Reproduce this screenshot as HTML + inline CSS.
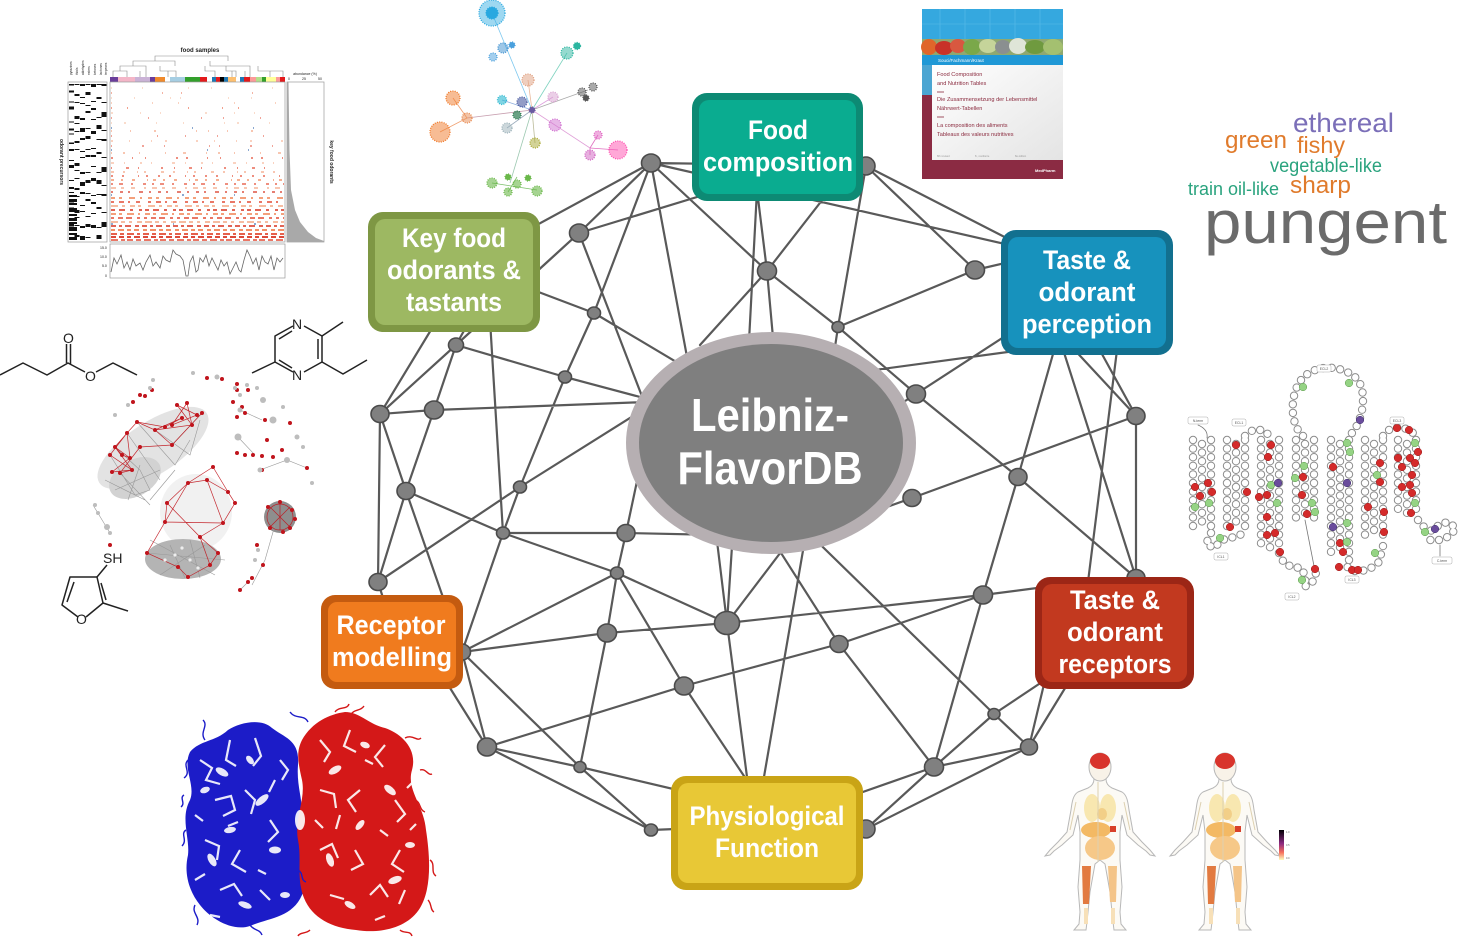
<!DOCTYPE html>
<html><head><meta charset="utf-8"><style>
html,body{margin:0;padding:0;background:#fff;}
body{width:1472px;height:939px;overflow:hidden;}
svg{display:block;}
.lbl{font-family:"Liberation Sans",sans-serif;font-weight:bold;fill:#fff;}
.wc{font-family:"Liberation Sans",sans-serif;}
.tiny{font-family:"Liberation Sans",sans-serif;}
</style></head><body>
<svg width="1472" height="939" viewBox="0 0 1472 939" xmlns="http://www.w3.org/2000/svg">
<defs>
<linearGradient id="cbar" x1="0" y1="0" x2="0" y2="1"><stop offset="0" stop-color="#000004"/><stop offset=".45" stop-color="#8c2981"/><stop offset=".75" stop-color="#f7705c"/><stop offset="1" stop-color="#fcfdbf"/></linearGradient>
<linearGradient id="bookw" x1="0" y1="0" x2="1" y2="1"><stop offset="0" stop-color="#ffffff"/><stop offset="1" stop-color="#e4e4e4"/></linearGradient>
</defs>

<!-- ================= HEATMAP (top-left) ================= -->
<g>
<text x="200" y="52" class="tiny" font-size="6" font-weight="bold" text-anchor="middle" fill="#222">food samples</text>
<path d="M113 77V71H127V77M120 71V66H146V71M140 71V77M146 71V77M133 66V61H175V66M160 66V71H176V77M168 71V77M155 61V56H228V61M210 61V66H250V71M232 71V77M245 71V77M250 71V77M226 66V71H236V77M205 66V71H215V77M258 66V71H283V77M270 71V77" fill="none" stroke="#8a8a8a" stroke-width=".6"/>
<g>
<rect x="110" y="77" width="8" height="5" fill="#6a3d9a"/><rect x="118" y="77" width="17" height="5" fill="#f4b6c8"/><rect x="135" y="77" width="15" height="5" fill="#cab2d6"/><rect x="150" y="77" width="5" height="5" fill="#6a3d9a"/><rect x="155" y="77" width="10" height="5" fill="#f08a2c"/><rect x="170" y="77" width="15" height="5" fill="#a6cee3"/><rect x="185" y="77" width="15" height="5" fill="#33a02c"/><rect x="200" y="77" width="7" height="5" fill="#e31a1c"/><rect x="212" y="77" width="4" height="5" fill="#1f78b4"/><rect x="216" y="77" width="4" height="5" fill="#e31a1c"/><rect x="220" y="77" width="4" height="5" fill="#000"/><rect x="224" y="77" width="4" height="5" fill="#1f78b4"/><rect x="228" y="77" width="8" height="5" fill="#fdbf6f"/><rect x="240" y="77" width="4" height="5" fill="#1f78b4"/><rect x="244" y="77" width="6" height="5" fill="#e31a1c"/><rect x="250" y="77" width="6" height="5" fill="#fb9a99"/><rect x="256" y="77" width="6" height="5" fill="#b2df8a"/><rect x="262" y="77" width="4" height="5" fill="#33a02c"/><rect x="266" y="77" width="10" height="5" fill="#ffff99"/><rect x="276" y="77" width="4" height="5" fill="#fb9a99"/><rect x="280" y="77" width="5" height="5" fill="#e31a1c"/>
</g>
<rect x="110" y="82" width="175" height="160" fill="#fff" stroke="#9a9a9a" stroke-width=".7"/>
<g fill="none">
<line x1="111" x2="284" y1="88" y2="88" stroke="#f6b89a" stroke-width="1" stroke-dasharray="1 30 1 45 1 22 1 60"/>
<line x1="111" x2="284" y1="93" y2="93" stroke="#e9694a" stroke-width="1" stroke-dasharray="1 50 1 18 1 70"/>
<line x1="111" x2="284" y1="98" y2="98" stroke="#f6b89a" stroke-width="1" stroke-dasharray="1 22 1 35 1 9 1 47"/>
<line x1="111" x2="284" y1="103" y2="103" stroke="#f4a582" stroke-width="1" stroke-dasharray="1 40 1 25 1 55"/>
<line x1="111" x2="284" y1="108" y2="108" stroke="#e9694a" stroke-width="1.2" stroke-dasharray="1 15 1 60 1 33"/>
<line x1="111" x2="284" y1="113" y2="113" stroke="#f6b89a" stroke-width="1" stroke-dasharray="2 27 1 19 1 44"/>
<line x1="111" x2="284" y1="118" y2="118" stroke="#e34a33" stroke-width="1" stroke-dasharray="1 36 1 52 1 21"/>
<line x1="111" x2="284" y1="123" y2="123" stroke="#f6b89a" stroke-width="1" stroke-dasharray="1 12 2 30 1 26 1 40"/>
<line x1="111" x2="284" y1="128" y2="128" stroke="#4575b4" stroke-width="1.2" stroke-dasharray="1 80 1 60 1 120"/>
<line x1="111" x2="284" y1="131" y2="131" stroke="#f4a582" stroke-width="1.2" stroke-dasharray="1 18 1 23 2 40 1 11"/>
<line x1="111" x2="284" y1="136" y2="136" stroke="#e34a33" stroke-width="1" stroke-dasharray="1 45 1 27 1 31"/>
<line x1="111" x2="284" y1="141" y2="141" stroke="#f6b89a" stroke-width="1.2" stroke-dasharray="2 16 1 21 1 13 2 29"/>
<line x1="111" x2="284" y1="146" y2="146" stroke="#e34a33" stroke-width="1" stroke-dasharray="1 30 2 20 1 44 1 9"/>
<line x1="111" x2="284" y1="150" y2="150" stroke="#4575b4" stroke-width="1.2" stroke-dasharray="1 95 1 40"/>
<line x1="111" x2="284" y1="153" y2="153" stroke="#f4a582" stroke-width="1.2" stroke-dasharray="1 11 2 14 1 25 1 17 3 20"/>
<line x1="111" x2="284" y1="158" y2="158" stroke="#e34a33" stroke-width="1.2" stroke-dasharray="2 19 1 12 1 30 2 8"/>
<line x1="111" x2="284" y1="163" y2="163" stroke="#f6b89a" stroke-width="1.2" stroke-dasharray="3 10 1 15 2 9 1 20"/>
<line x1="111" x2="284" y1="168" y2="168" stroke="#e34a33" stroke-width="1.2" stroke-dasharray="1 14 3 9 1 22 2 11"/>
<line x1="111" x2="284" y1="172" y2="172" stroke="#f4a582" stroke-width="1.2" stroke-dasharray="3 9 2 12 1 6 2 15"/>
<line x1="111" x2="284" y1="176" y2="176" stroke="#e34a33" stroke-width="1.2" stroke-dasharray="2 9 2 14 1 7 2 10"/>
<line x1="111" x2="284" y1="180" y2="180" stroke="#f08050" stroke-width="1.3" stroke-dasharray="3 7 2 9 3 12 1 5"/>
<line x1="111" x2="284" y1="184" y2="184" stroke="#e34a33" stroke-width="1.3" stroke-dasharray="2 6 4 8 2 10 3 6"/>
<line x1="111" x2="284" y1="188" y2="188" stroke="#f4a582" stroke-width="1.3" stroke-dasharray="5 5 3 7 4 9 2 6"/>
<line x1="111" x2="284" y1="192" y2="192" stroke="#d7301f" stroke-width="1.3" stroke-dasharray="2 7 3 5 2 9 4 6"/>
<line x1="111" x2="284" y1="195" y2="195" stroke="#4575b4" stroke-width="1.2" stroke-dasharray="1 70 2 50"/>
<line x1="111" x2="284" y1="198" y2="198" stroke="#f08050" stroke-width="1.4" stroke-dasharray="4 4 3 7 6 5 2 6"/>
<line x1="111" x2="284" y1="202" y2="202" stroke="#e34a33" stroke-width="1.4" stroke-dasharray="3 5 5 4 2 6 4 8"/>
<line x1="111" x2="284" y1="206" y2="206" stroke="#f4a582" stroke-width="1.4" stroke-dasharray="7 4 3 5 5 3 3 7"/>
<line x1="111" x2="284" y1="210" y2="210" stroke="#d7301f" stroke-width="1.5" stroke-dasharray="4 4 6 5 3 6 3 3"/>
<line x1="111" x2="284" y1="214" y2="214" stroke="#f08050" stroke-width="1.5" stroke-dasharray="5 3 3 5 7 4 2 5"/>
<line x1="111" x2="284" y1="218" y2="218" stroke="#e34a33" stroke-width="1.5" stroke-dasharray="3 4 5 3 6 5 3 4"/>
<line x1="111" x2="284" y1="222" y2="222" stroke="#f4a582" stroke-width="1.5" stroke-dasharray="7 3 4 4 3 5 5 3"/>
<line x1="111" x2="284" y1="224" y2="224" stroke="#4575b4" stroke-width="1.2" stroke-dasharray="2 60 1 80"/>
<line x1="111" x2="284" y1="226" y2="226" stroke="#d7301f" stroke-width="1.6" stroke-dasharray="5 3 3 3 6 4 4 3"/>
<line x1="111" x2="284" y1="230" y2="230" stroke="#f08050" stroke-width="1.7" stroke-dasharray="4 3 6 3 4 3 5 4"/>
<line x1="111" x2="284" y1="234" y2="234" stroke="#e34a33" stroke-width="1.7" stroke-dasharray="6 3 4 3 7 3 3 3"/>
<line x1="111" x2="284" y1="237" y2="237" stroke="#d7301f" stroke-width="1.7" stroke-dasharray="5 3 5 3 4 3 6 3"/>
<line x1="111" x2="284" y1="240" y2="240" stroke="#e34a33" stroke-width="1.6" stroke-dasharray="7 3 4 2 6 3 5 3"/>
</g>
<rect x="68" y="82" width="39" height="160" fill="#fff" stroke="#9a9a9a" stroke-width=".7"/>
<g stroke="#111" fill="none" stroke-width="5">
<line x1="71.5" x2="71.5" y1="84" y2="240" stroke-dasharray="1.5 5 2 9 1 4 3 12 1 6 2 3 1 8"/>
<line x1="77" x2="77" y1="84" y2="240" stroke-dasharray="1 9 2 6 1 13 3 4 1 7"/>
<line x1="82.5" x2="82.5" y1="84" y2="240" stroke-dasharray="2 11 1 5 1 14 2 8 4 6"/>
<line x1="88" x2="88" y1="84" y2="240" stroke-dasharray="1 7 3 10 1 5 2 15"/>
<line x1="93.5" x2="93.5" y1="84" y2="240" stroke-dasharray="3 14 1 6 2 9 1 11"/>
<line x1="99" x2="99" y1="84" y2="240" stroke-dasharray="1 12 2 18 1 7 4 10"/>
<line x1="104" x2="104" y1="84" y2="240" stroke-dasharray="2 16 1 9 5 13 1 8"/>
<line x1="73" x2="73" y1="195" y2="240" stroke-width="8" stroke-dasharray="2 2 3 1 2 3 4 2"/>
</g>
<g class="tiny" font-size="3.2" fill="#222">
<text transform="translate(72,75) rotate(-90)">pyrazines</text>
<text transform="translate(78,75) rotate(-90)">thiols</text>
<text transform="translate(84,75) rotate(-90)">aldehydes</text>
<text transform="translate(90,75) rotate(-90)">esters</text>
<text transform="translate(96,75) rotate(-90)">ketones</text>
<text transform="translate(102,75) rotate(-90)">lactones</text>
<text transform="translate(107,75) rotate(-90)">terpenes</text>
</g>
<text transform="translate(60,162) rotate(90)" class="tiny" font-size="5" font-weight="bold" text-anchor="middle" fill="#222">odorant precursors</text>
<text x="305" y="75" class="tiny" font-size="3.5" text-anchor="middle" fill="#222">abundance (%)</text>
<text x="288" y="80" class="tiny" font-size="3.5" fill="#222">0</text><text x="302" y="80" class="tiny" font-size="3.5" fill="#222">25</text><text x="318" y="80" class="tiny" font-size="3.5" fill="#222">50</text>
<rect x="287" y="82" width="37" height="160" fill="#fff" stroke="#9a9a9a" stroke-width=".7"/>
<path d="M287 82H288.5L289.5 150L291 190L295 210L300 222L308 232L316 238L324 241V242H287Z" fill="#a9a9a9"/>
<text transform="translate(330,162) rotate(90)" class="tiny" font-size="5" font-weight="bold" text-anchor="middle" fill="#222">key food odorants</text>
<rect x="110" y="244" width="175" height="34" fill="#fff" stroke="#9a9a9a" stroke-width=".7"/>
<polyline points="111,272 114,258 117,264 121,255 124,268 127,262 130,270 133,259 136,266 140,263 143,270 146,262 150,255 153,266 156,262 160,268 163,256 166,260 170,262 173,250 176,254 180,256 183,260 186,276 188,276 190,262 193,256 196,272 198,270 200,258 203,262 206,255 209,266 212,258 215,264 218,270 221,260 224,266 227,262 230,274 233,268 236,262 239,270 241,272 244,260 247,250 250,256 253,264 256,258 259,270 262,256 265,262 268,264 271,256 274,270 277,258 280,262 283,258" fill="none" stroke="#666" stroke-width=".8"/>
<g class="tiny" font-size="3.5" fill="#222"><text x="100" y="249">15.0</text><text x="100" y="258">10.0</text><text x="102" y="267">5.0</text><text x="105" y="277">0</text></g>
</g>

<!-- ================= small network (top) ================= -->
<g stroke-width=".8" fill="none">
<line x1="532" y1="110" x2="492" y2="13" stroke="#7ec8ef"/>
<line x1="532" y1="110" x2="567" y2="53" stroke="#7fd3c0"/>
<line x1="532" y1="110" x2="528" y2="80" stroke="#e8b89a"/>
<line x1="532" y1="110" x2="588" y2="90" stroke="#aaa"/>
<line x1="532" y1="110" x2="553" y2="97" stroke="#dda0dd"/>
<line x1="532" y1="110" x2="467" y2="118" stroke="#c8a0b0"/>
<line x1="467" y1="118" x2="453" y2="98" stroke="#f0a070"/>
<line x1="467" y1="118" x2="440" y2="132" stroke="#f0a070"/>
<line x1="532" y1="110" x2="502" y2="100" stroke="#8ad"/>
<line x1="532" y1="110" x2="507" y2="128" stroke="#9ab"/>
<line x1="532" y1="110" x2="535" y2="143" stroke="#bb9"/>
<line x1="532" y1="110" x2="590" y2="148" stroke="#e0a0d8"/>
<line x1="590" y1="148" x2="598" y2="135" stroke="#e070c0"/>
<line x1="590" y1="148" x2="590" y2="155" stroke="#e070c0"/>
<line x1="590" y1="148" x2="618" y2="150" stroke="#e070c0"/>
<line x1="532" y1="110" x2="510" y2="183" stroke="#9cc8b0"/>
<line x1="492" y1="183" x2="537" y2="190" stroke="#7cc06a"/>
<line x1="517" y1="177" x2="508" y2="192" stroke="#7cc06a"/>
</g>
<g stroke-dasharray="1 1.3" stroke-width="1.3">
<circle cx="492" cy="13" r="13" fill="#29a8e0" fill-opacity=".45" stroke="#29a8e0"/>
<circle cx="492" cy="13" r="6" fill="#29a8e0" stroke="#29a8e0"/>
<circle cx="503" cy="48" r="5" fill="#3b8fd0" fill-opacity=".5" stroke="#3b8fd0"/>
<circle cx="493" cy="57" r="4" fill="#4aa0dd" fill-opacity=".5" stroke="#4aa0dd"/>
<circle cx="512" cy="45" r="3" fill="#4aa0dd" stroke="#4aa0dd"/>
<circle cx="567" cy="53" r="6" fill="#2bb5a0" fill-opacity=".5" stroke="#2bb5a0"/>
<circle cx="577" cy="46" r="3.5" fill="#2bb5a0" stroke="#2bb5a0"/>
<circle cx="528" cy="80" r="6" fill="#e0a080" fill-opacity=".5" stroke="#e0a080"/>
<circle cx="582" cy="92" r="4" fill="#555" fill-opacity=".5" stroke="#555"/>
<circle cx="593" cy="87" r="4" fill="#555" fill-opacity=".5" stroke="#555"/>
<circle cx="586" cy="98" r="3" fill="#555" stroke="#555"/>
<circle cx="553" cy="97" r="5" fill="#d8a0d0" fill-opacity=".5" stroke="#d8a0d0"/>
<circle cx="453" cy="98" r="7" fill="#f07a2a" fill-opacity=".5" stroke="#f07a2a"/>
<circle cx="440" cy="132" r="10" fill="#f07a2a" fill-opacity=".5" stroke="#f07a2a"/>
<circle cx="467" cy="118" r="5" fill="#e88a50" fill-opacity=".5" stroke="#e88a50"/>
<circle cx="502" cy="100" r="4.5" fill="#2ab8d0" fill-opacity=".6" stroke="#2ab8d0"/>
<circle cx="522" cy="102" r="5" fill="#4a5aa0" fill-opacity=".6" stroke="#4a5aa0"/>
<circle cx="517" cy="115" r="4" fill="#2a7a50" fill-opacity=".7" stroke="#2a7a50"/>
<circle cx="507" cy="128" r="5" fill="#9ab0b8" fill-opacity=".5" stroke="#9ab0b8"/>
<circle cx="535" cy="143" r="5" fill="#a8a830" fill-opacity=".5" stroke="#a8a830"/>
<circle cx="555" cy="125" r="6" fill="#d070d0" fill-opacity=".5" stroke="#d070d0"/>
<circle cx="598" cy="135" r="4" fill="#e060c0" fill-opacity=".5" stroke="#e060c0"/>
<circle cx="590" cy="155" r="5" fill="#d060c0" fill-opacity=".5" stroke="#d060c0"/>
<circle cx="618" cy="150" r="9" fill="#ff50b0" fill-opacity=".5" stroke="#ff50b0"/>
<circle cx="492" cy="183" r="5" fill="#6ab84a" fill-opacity=".6" stroke="#6ab84a"/>
<circle cx="508" cy="177" r="3" fill="#6ab84a" stroke="#6ab84a"/>
<circle cx="517" cy="184" r="4" fill="#6ab84a" fill-opacity=".6" stroke="#6ab84a"/>
<circle cx="537" cy="191" r="5" fill="#6ab84a" fill-opacity=".6" stroke="#6ab84a"/>
<circle cx="508" cy="192" r="4" fill="#6ab84a" fill-opacity=".6" stroke="#6ab84a"/>
<circle cx="528" cy="178" r="3" fill="#6ab84a" stroke="#6ab84a"/>
<circle cx="532" cy="110" r="3" fill="#6a5aa0" stroke="#6a5aa0"/>
</g>

<!-- ================= BOOK ================= -->
<g>
<rect x="922" y="9" width="141" height="170" fill="#8b2b43"/>
<rect x="922" y="9" width="141" height="30" fill="#35a8df"/>
<g stroke="#5bbbe8" stroke-width=".6"><line x1="940" y1="9" x2="940" y2="39"/><line x1="965" y1="9" x2="965" y2="39"/><line x1="990" y1="9" x2="990" y2="39"/><line x1="1015" y1="9" x2="1015" y2="39"/><line x1="1040" y1="9" x2="1040" y2="39"/><line x1="922" y1="24" x2="1063" y2="24"/></g>
<rect x="922" y="39" width="141" height="16" fill="#8fa870"/>
<ellipse cx="929" cy="47" rx="8" ry="8" fill="#e0662a"/>
<ellipse cx="944" cy="48" rx="9" ry="7" fill="#c83228"/>
<ellipse cx="958" cy="46" rx="8" ry="7" fill="#d85840"/>
<ellipse cx="972" cy="47" rx="9" ry="8" fill="#7aa84a"/>
<ellipse cx="988" cy="46" rx="9" ry="7" fill="#c5d49a"/>
<ellipse cx="1003" cy="47" rx="8" ry="7" fill="#8a8f90"/>
<ellipse cx="1018" cy="46" rx="9" ry="8" fill="#dfe5d8"/>
<ellipse cx="1035" cy="47" rx="10" ry="7" fill="#6f9a3f"/>
<ellipse cx="1053" cy="47" rx="10" ry="8" fill="#a4c070"/>
<rect x="922" y="55" width="141" height="10" fill="#1f98d6"/>
<text x="938" y="62" class="tiny" font-size="4.5" fill="#fff">Souci/Fachmann/Kraut</text>
<rect x="922" y="65" width="10" height="30" fill="#4ba5d2"/>
<rect x="932" y="65" width="131" height="95" fill="url(#bookw)"/>
<g class="tiny" font-size="5.6" fill="#8a2a3e">
<text x="937" y="76">Food Composition</text>
<text x="937" y="85">and Nutrition Tables</text>
<line x1="937" y1="92" x2="944" y2="92" stroke="#8a2a3e" stroke-width=".8"/>
<text x="937" y="101">Die Zusammensetzung der Lebensmittel</text>
<text x="937" y="110">Nährwert-Tabellen</text>
<line x1="937" y1="117" x2="944" y2="117" stroke="#8a2a3e" stroke-width=".8"/>
<text x="937" y="127">La composition des aliments</text>
<text x="937" y="136">Tableaux des valeurs nutritives</text>
</g>
<g class="tiny" font-size="2.6" fill="#999"><text x="937" y="157">8th revised</text><text x="975" y="157">8., revidierte</text><text x="1015" y="157">8e édition</text></g>
<text x="1035" y="172" class="tiny" font-size="4" font-weight="bold" fill="#fff">MedPharm</text>
</g>

<!-- ================= WORD CLOUD ================= -->
<g class="wc">
<text x="1293" y="132" font-size="27" fill="#7b6fb8" textLength="101" lengthAdjust="spacingAndGlyphs">ethereal</text>
<text x="1225" y="148" font-size="24" fill="#e07b2c" textLength="62" lengthAdjust="spacingAndGlyphs">green</text>
<text x="1297" y="153" font-size="23" fill="#e07b2c" textLength="48" lengthAdjust="spacingAndGlyphs">fishy</text>
<text x="1270" y="172" font-size="19" fill="#2aa37e" textLength="112" lengthAdjust="spacingAndGlyphs">vegetable-like</text>
<text x="1188" y="195" font-size="18" fill="#2aa37e" textLength="91" lengthAdjust="spacingAndGlyphs">train oil-like</text>
<text x="1290" y="193" font-size="24" fill="#e07b2c" textLength="61" lengthAdjust="spacingAndGlyphs">sharp</text>
<text x="1204" y="243" font-size="60" fill="#6b6b6b" textLength="243" lengthAdjust="spacingAndGlyphs">pungent</text>
</g>

<!-- ================= CHEMISTRY + red/gray network (left) ================= -->
<g fill="none" stroke="#222" stroke-width="1.5" stroke-linejoin="round">
<polyline points="0,375 23,363 47,375 68,363 85,372"/>
<polyline points="96,372 113,363 137,375"/>
<line x1="66.5" y1="363" x2="66.5" y2="344"/><line x1="70.5" y1="364" x2="70.5" y2="344"/>
<polyline points="293,326 275,336 275,362 293,372"/>
<line x1="279" y1="339" x2="292" y2="331"/>
<line x1="279" y1="360" x2="292" y2="368"/>
<polyline points="304,326 322,336 322,362 304,372"/>
<line x1="318" y1="339" x2="318" y2="359"/>
<line x1="322" y1="336" x2="343" y2="322"/>
<polyline points="322,362 343,374 367,360"/>
<line x1="275" y1="362" x2="252" y2="373"/>
<polyline points="107,565 97,577 103,603 86,617"/>
<polyline points="78,617 62,605 70,577 97,577"/>
<line x1="74" y1="582" x2="67" y2="602"/>
<line x1="101" y1="583" x2="106" y2="600"/>
<line x1="103" y1="603" x2="128" y2="611"/>
</g>
<g class="tiny" font-size="14" fill="#222">
<text x="63" y="343">O</text><text x="85" y="381">O</text>
<text x="292" y="329">N</text><text x="292" y="380">N</text>
<text x="103" y="563">SH</text><text x="76" y="624">O</text>
</g>
<g>
<ellipse cx="153" cy="448" rx="64" ry="26" transform="rotate(-33 153 448)" fill="#e3e3e3"/>
<ellipse cx="135" cy="478" rx="28" ry="18" transform="rotate(-30 135 478)" fill="#d2d2d2"/>
<ellipse cx="196" cy="512" rx="36" ry="38" fill="#f1f1f1"/>
<ellipse cx="183" cy="559" rx="38" ry="20" fill="#b4b4b4"/>
<circle cx="280" cy="517" r="16" fill="#8e8e8e"/>
<g stroke="#999" stroke-width=".6" fill="none">
<path d="M110 455L135 495L150 490L140 470L115 447M120 473L150 505M127 433L160 480M137 422L175 465L190 440M155 430L190 455L200 420M172 445L202 413M150 540L215 575M160 575L205 545M170 545L185 578M190 540L200 578M147 553L225 560M260 470L287 460L307 468M240 410L262 420M238 437L255 455M93 505L110 533M275 525L265 560L252 585M248 582L240 590M105 480L145 500M115 490L160 470M150 500L175 470M128 500L140 465"/>
</g>
<g stroke="#c0141c" stroke-width=".7" fill="none" opacity=".9">
<path d="M177 405L197 415L172 425L187 403L192 425L155 430L182 418L165 427L137 422L127 433L115 447L122 455L130 458L112 472L132 470L120 473L140 447L172 445L202 413M110 455L127 433L130 458M115 447L132 470M137 422L155 430L172 445M213 467L188 483L207 480L228 492L235 503L223 523L165 522L167 503L188 483M213 467L228 492M207 480L223 523L200 537L218 553M165 522L147 553L178 567L188 577L210 565L218 553M167 503L200 537L210 565M188 483L165 522M177 405L192 425M187 403L172 425M115 447L130 458M110 455L132 470"/>
<circle cx="280" cy="517" r="13"/>
<path d="M270 507L290 527M270 527L290 507M280 504V530"/>
</g>
<g fill="#c0141c">
<circle cx="177" cy="405" r="2"/><circle cx="187" cy="403" r="2"/><circle cx="197" cy="415" r="2"/><circle cx="192" cy="425" r="2"/><circle cx="172" cy="425" r="2"/><circle cx="165" cy="427" r="2"/><circle cx="155" cy="430" r="2"/><circle cx="137" cy="422" r="2"/><circle cx="127" cy="433" r="2"/><circle cx="115" cy="447" r="2"/><circle cx="110" cy="455" r="2"/><circle cx="122" cy="455" r="2"/><circle cx="130" cy="458" r="2"/><circle cx="112" cy="472" r="2"/><circle cx="120" cy="473" r="2"/><circle cx="132" cy="470" r="2"/><circle cx="140" cy="447" r="2"/><circle cx="172" cy="445" r="2"/><circle cx="182" cy="418" r="2"/><circle cx="202" cy="413" r="2"/>
<circle cx="213" cy="467" r="2"/><circle cx="188" cy="483" r="2"/><circle cx="207" cy="480" r="2"/><circle cx="228" cy="492" r="2"/><circle cx="235" cy="503" r="2"/><circle cx="223" cy="523" r="2"/><circle cx="165" cy="522" r="2"/><circle cx="167" cy="503" r="2"/><circle cx="147" cy="553" r="2"/><circle cx="200" cy="537" r="2"/><circle cx="218" cy="553" r="2"/><circle cx="178" cy="567" r="2"/><circle cx="188" cy="577" r="2"/><circle cx="210" cy="565" r="2"/>
<circle cx="268" cy="507" r="2"/><circle cx="292" cy="510" r="2"/><circle cx="270" cy="528" r="2"/><circle cx="290" cy="528" r="2"/><circle cx="280" cy="502" r="2"/><circle cx="283" cy="532" r="2"/><circle cx="295" cy="519" r="2"/>
<circle cx="207" cy="378" r="2"/><circle cx="222" cy="379" r="2"/><circle cx="237" cy="384" r="2"/><circle cx="237" cy="390" r="2"/><circle cx="248" cy="390" r="2"/><circle cx="233" cy="402" r="2"/><circle cx="242" cy="407" r="2"/><circle cx="237" cy="417" r="2"/><circle cx="245" cy="413" r="2"/><circle cx="265" cy="420" r="2"/><circle cx="290" cy="423" r="2"/><circle cx="267" cy="440" r="2"/><circle cx="237" cy="453" r="2"/><circle cx="245" cy="455" r="2"/><circle cx="253" cy="455" r="2"/><circle cx="262" cy="456" r="2"/><circle cx="273" cy="457" r="2"/><circle cx="282" cy="450" r="2"/><circle cx="307" cy="468" r="2"/><circle cx="262" cy="470" r="2"/><circle cx="133" cy="402" r="2"/><circle cx="140" cy="395" r="2"/><circle cx="145" cy="396" r="2"/><circle cx="152" cy="390" r="2"/><circle cx="110" cy="545" r="2"/><circle cx="257" cy="545" r="2"/><circle cx="263" cy="565" r="2"/><circle cx="248" cy="582" r="2"/><circle cx="240" cy="590" r="2"/><circle cx="252" cy="578" r="2"/>
</g>
<g fill="#bdbdbd">
<circle cx="193" cy="373" r="2"/><circle cx="217" cy="377" r="2.5"/><circle cx="235" cy="388" r="2"/><circle cx="247" cy="385" r="2"/><circle cx="257" cy="388" r="2"/><circle cx="263" cy="400" r="3"/><circle cx="273" cy="420" r="3.5"/><circle cx="283" cy="407" r="2"/><circle cx="240" cy="410" r="2.5"/><circle cx="238" cy="437" r="3.5"/><circle cx="297" cy="437" r="2.5"/><circle cx="303" cy="447" r="2"/><circle cx="312" cy="483" r="2"/><circle cx="260" cy="470" r="2.5"/><circle cx="287" cy="460" r="3"/><circle cx="153" cy="380" r="2"/><circle cx="150" cy="388" r="2"/><circle cx="128" cy="405" r="2"/><circle cx="115" cy="415" r="2"/><circle cx="95" cy="505" r="2"/><circle cx="98" cy="513" r="2"/><circle cx="107" cy="527" r="3"/><circle cx="110" cy="533" r="2"/><circle cx="240" cy="395" r="2"/><circle cx="258" cy="550" r="2"/><circle cx="255" cy="560" r="2"/>
<circle cx="165" cy="560" r="1.6" fill="#eee"/><circle cx="175" cy="555" r="1.6" fill="#eee"/><circle cx="190" cy="560" r="1.6" fill="#eee"/><circle cx="198" cy="568" r="1.6" fill="#eee"/><circle cx="182" cy="548" r="1.6" fill="#eee"/>
</g>
</g>

<!-- ================= SNAKE PLOT ================= -->
<g fill="none" stroke-linecap="round">
<g stroke="#8c8c8c" stroke-width="8.4" stroke-dasharray="0 8.6">
<path d="M1193 440V528M1202 444V528M1211 440V528M1227 440V528M1236 444V528M1245 440V528M1261 440V548M1270 444V548M1279 440V548M1296 440V520M1305 444V520M1314 440V520M1331 440V555M1340 444V555M1349 440V555M1365 440V537M1374 444V537M1383 440V537M1398 440V515M1407 444V515M1416 440V515"/>
<path d="M1211 533L1206 544L1214 548L1222 540L1234 537L1245 533"/>
<path d="M1245 436L1253 430L1263 430L1270 436"/>
<path d="M1279 553L1284 563L1292 567L1301 568L1306 577L1304 587L1312 583L1316 573"/>
<path d="M1303 436C1288 423 1290 388 1305 376C1320 363 1345 366 1358 380C1368 395 1362 425 1349 436"/>
<path d="M1349 560L1346 566L1353 571L1362 571L1371 568L1379 562L1383 546"/>
<path d="M1383 436L1390 429L1400 427L1410 430L1416 436"/>
<path d="M1418 520L1424 527L1432 531L1440 524L1448 522L1456 528L1450 536L1440 540L1430 540"/>
</g>
<g stroke="#fff" stroke-width="6.4" stroke-dasharray="0 8.6">
<path d="M1193 440V528M1202 444V528M1211 440V528M1227 440V528M1236 444V528M1245 440V528M1261 440V548M1270 444V548M1279 440V548M1296 440V520M1305 444V520M1314 440V520M1331 440V555M1340 444V555M1349 440V555M1365 440V537M1374 444V537M1383 440V537M1398 440V515M1407 444V515M1416 440V515"/>
<path d="M1211 533L1206 544L1214 548L1222 540L1234 537L1245 533"/>
<path d="M1245 436L1253 430L1263 430L1270 436"/>
<path d="M1279 553L1284 563L1292 567L1301 568L1306 577L1304 587L1312 583L1316 573"/>
<path d="M1303 436C1288 423 1290 388 1305 376C1320 363 1345 366 1358 380C1368 395 1362 425 1349 436"/>
<path d="M1349 560L1346 566L1353 571L1362 571L1371 568L1379 562L1383 546"/>
<path d="M1383 436L1390 429L1400 427L1410 430L1416 436"/>
<path d="M1418 520L1424 527L1432 531L1440 524L1448 522L1456 528L1450 536L1440 540L1430 540"/>
</g>
<path d="M1198 425C1205 428 1208 432 1207 438M1305 520L1314 566M1440 545V556" stroke="#777" stroke-width=".8"/>
</g>
<g fill="#d42a2a" stroke="#9a1a1a" stroke-width=".5">
<circle cx="1195" cy="487" r="3.8"/><circle cx="1208" cy="483" r="3.8"/><circle cx="1200" cy="496" r="3.8"/><circle cx="1212" cy="492" r="3.8"/><circle cx="1236" cy="445" r="3.8"/><circle cx="1247" cy="492" r="3.8"/><circle cx="1230" cy="527" r="3.8"/><circle cx="1271" cy="445" r="3.8"/><circle cx="1268" cy="457" r="3.8"/><circle cx="1259" cy="497" r="3.8"/><circle cx="1267" cy="495" r="3.8"/><circle cx="1267" cy="517" r="3.8"/><circle cx="1267" cy="535" r="3.8"/><circle cx="1275" cy="533" r="3.8"/><circle cx="1280" cy="552" r="3.8"/><circle cx="1315" cy="569" r="3.8"/><circle cx="1303" cy="477" r="3.8"/><circle cx="1302" cy="495" r="3.8"/><circle cx="1307" cy="514" r="3.8"/><circle cx="1333" cy="467" r="3.8"/><circle cx="1340" cy="543" r="3.8"/><circle cx="1343" cy="552" r="3.8"/><circle cx="1339" cy="567" r="3.8"/><circle cx="1352" cy="570" r="3.8"/><circle cx="1358" cy="570" r="3.8"/><circle cx="1380" cy="463" r="3.8"/><circle cx="1380" cy="482" r="3.8"/><circle cx="1368" cy="507" r="3.8"/><circle cx="1384" cy="512" r="3.8"/><circle cx="1384" cy="532" r="3.8"/><circle cx="1397" cy="428" r="3.8"/><circle cx="1409" cy="430" r="3.8"/><circle cx="1398" cy="458" r="3.8"/><circle cx="1410" cy="458" r="3.8"/><circle cx="1418" cy="452" r="3.8"/><circle cx="1402" cy="467" r="3.8"/><circle cx="1415" cy="463" r="3.8"/><circle cx="1412" cy="475" r="3.8"/><circle cx="1402" cy="487" r="3.8"/><circle cx="1410" cy="485" r="3.8"/><circle cx="1412" cy="493" r="3.8"/><circle cx="1411" cy="513" r="3.8"/>
</g>
<g fill="#95d384" stroke="#5a9a4a" stroke-width=".5">
<circle cx="1195" cy="507" r="3.8"/><circle cx="1209" cy="503" r="3.8"/><circle cx="1220" cy="538" r="3.8"/><circle cx="1271" cy="485" r="3.8"/><circle cx="1277" cy="503" r="3.8"/><circle cx="1304" cy="466" r="3.8"/><circle cx="1295" cy="478" r="3.8"/><circle cx="1312" cy="503" r="3.8"/><circle cx="1315" cy="512" r="3.8"/><circle cx="1302" cy="580" r="3.8"/><circle cx="1303" cy="387" r="3.8"/><circle cx="1349" cy="383" r="3.8"/><circle cx="1347" cy="443" r="3.8"/><circle cx="1350" cy="452" r="3.8"/><circle cx="1347" cy="523" r="3.8"/><circle cx="1347" cy="542" r="3.8"/><circle cx="1377" cy="475" r="3.8"/><circle cx="1375" cy="553" r="3.8"/><circle cx="1415" cy="443" r="3.8"/><circle cx="1415" cy="503" r="3.8"/><circle cx="1425" cy="532" r="3.8"/>
</g>
<g fill="#6a4c9c" stroke="#3a2a6a" stroke-width=".5">
<circle cx="1278" cy="483" r="3.8"/><circle cx="1360" cy="420" r="3.8"/><circle cx="1347" cy="483" r="3.8"/><circle cx="1333" cy="527" r="3.8"/><circle cx="1435" cy="529" r="3.8"/>
</g>
<g class="tiny" font-size="3.4" fill="#555" text-anchor="middle">
<rect x="1188" y="417" width="20" height="7" rx="1.5" fill="#fff" stroke="#aaa" stroke-width=".5"/><text x="1198" y="422">N-term</text>
<rect x="1232" y="419" width="14" height="7" rx="1.5" fill="#fff" stroke="#aaa" stroke-width=".5"/><text x="1239" y="424">ECL1</text>
<rect x="1317" y="365" width="14" height="7" rx="1.5" fill="#fff" stroke="#aaa" stroke-width=".5"/><text x="1324" y="370">ECL2</text>
<rect x="1390" y="417" width="14" height="7" rx="1.5" fill="#fff" stroke="#aaa" stroke-width=".5"/><text x="1397" y="422">ECL3</text>
<rect x="1214" y="553" width="14" height="7" rx="1.5" fill="#fff" stroke="#aaa" stroke-width=".5"/><text x="1221" y="558">ICL1</text>
<rect x="1285" y="593" width="14" height="7" rx="1.5" fill="#fff" stroke="#aaa" stroke-width=".5"/><text x="1292" y="598">ICL2</text>
<rect x="1345" y="576" width="14" height="7" rx="1.5" fill="#fff" stroke="#aaa" stroke-width=".5"/><text x="1352" y="581">ICL3</text>
<rect x="1432" y="557" width="20" height="7" rx="1.5" fill="#fff" stroke="#aaa" stroke-width=".5"/><text x="1442" y="562">C-term</text>
</g>

<!-- ================= PROTEIN ================= -->
<g>
<path d="M190,752 C200,740 215,742 228,730 C240,722 262,718 272,728 C285,738 300,740 298,765 C296,790 306,805 300,825 C296,850 312,870 302,895 C292,918 268,918 250,926 C232,932 210,918 200,905 C188,890 184,872 188,855 C190,838 180,818 190,800 C196,785 182,768 190,752 Z" fill="#1c1cc8"/>
<path d="M302,740 C312,722 330,714 345,712 C360,712 368,724 385,728 C400,733 418,748 412,770 C406,790 424,805 426,830 C430,856 432,888 420,908 C408,928 380,934 356,930 C332,928 312,918 304,898 C296,878 302,860 298,840 C294,818 306,800 302,780 C298,762 296,752 302,740 Z" fill="#d41818"/>
<g fill="#fff" opacity=".9">
<ellipse cx="222" cy="772" rx="7" ry="3.5" transform="rotate(30 222 772)"/>
<ellipse cx="262" cy="800" rx="8" ry="3.5" transform="rotate(-40 262 800)"/>
<ellipse cx="212" cy="860" rx="7" ry="3.5" transform="rotate(60 212 860)"/>
<ellipse cx="275" cy="850" rx="6" ry="3.5"/>
<ellipse cx="245" cy="905" rx="7" ry="3" transform="rotate(20 245 905)"/>
<ellipse cx="205" cy="790" rx="5" ry="3" transform="rotate(-20 205 790)"/>
<ellipse cx="250" cy="760" rx="5" ry="3" transform="rotate(50 250 760)"/>
<ellipse cx="230" cy="830" rx="6" ry="3" transform="rotate(-10 230 830)"/>
<ellipse cx="285" cy="895" rx="5" ry="3"/>
<ellipse cx="335" cy="770" rx="7" ry="3.5" transform="rotate(-30 335 770)"/>
<ellipse cx="390" cy="790" rx="7" ry="3.5" transform="rotate(40 390 790)"/>
<ellipse cx="330" cy="860" rx="7" ry="3.5" transform="rotate(70 330 860)"/>
<ellipse cx="395" cy="880" rx="7" ry="3.5" transform="rotate(-20 395 880)"/>
<ellipse cx="365" cy="745" rx="5" ry="3" transform="rotate(20 365 745)"/>
<ellipse cx="360" cy="825" rx="6" ry="3" transform="rotate(-50 360 825)"/>
<ellipse cx="410" cy="845" rx="5" ry="3"/>
<ellipse cx="350" cy="905" rx="6" ry="3" transform="rotate(30 350 905)"/>
<ellipse cx="300" cy="820" rx="5" ry="10"/>
</g>
<g fill="none" stroke="#fff" stroke-width="2.2" opacity=".9">
<path d="M200 760l12 8-6 12 14 4M230 740l-4 20 10 6M255 738l6 18-8 10M215 800l16-4 4 14-12 6M245 790l10 10-4 14M205 840l14 6-2 14M240 850l-8 14 14 8M270 820l8 12-10 10M220 890l14-6 8 12M260 890l10 10M195 815l8 6M280 760l8 10-6 10M228 826l10-4M258 870l8 4M195 880l10 -6M275 780l-6 12M210 915l10 2"/>
<path d="M320 740l10 12-6 10M350 730l-6 16 12 6M385 745l-10 12 8 10M320 790l14 4 2 14M360 790l-12 10 8 12M395 800l10 14-8 8M320 850l12-6 6 14M355 850l8 14-12 6M400 850l-8 14 12 8M330 895l14 4M370 895l10-10 8 12M405 890l-6 14M340 815l-4 14M380 830l8 6M365 760l8 4M410 830l6 -6M315 820l8 8M375 920l10 -4M415 780l-8 8"/>
</g>
<g fill="none" stroke-width="1.4">
<path d="M188 760c-6 6 4 12-4 18M186 830c-6 4 2 10-4 16M195 905c-4 8 6 12 2 20M250 925c4 6 10 4 12 10M290 712c6 8 14 2 18 10M205 740c-6-8 4-14-2-20M184 795c-5 3 2 8-3 12M298 870c6 3 2 10 8 12" stroke="#1c1cc8"/>
<path d="M335 712c4-6 12-2 14-8M405 738c8-4 12 4 16 0M415 800c6 2 4 10 10 12M430 860c6 4 0 12 6 16M400 930c4 4 10 0 12 6M310 930c-4 4-10 2-12 6M350 716c4-8 10-4 14-10M420 770c6-2 8 6 12 4M428 900c4 4 2 10 6 12" stroke="#d41818"/>
</g>
</g>

<!-- ================= BODIES ================= -->
<g id="bodyfig" transform="translate(1100,752)">
<path d="M-6,27 C-6,31 -8,34 -12,36 L-22,40 C-27,43 -28,50 -29,58 L-33,80 L-42,90 L-50,98 L-55,104 L-50,103 L-46,99 L-38,93 L-27,83 L-22,63 L-20,80 L-20,108 L-22,135 L-20,160 L-21,172 L-26,178 L-14,178 L-13,170 L-10,140 L-5,112 L0,108 L5,112 L10,140 L13,170 L14,178 L26,178 L21,172 L20,160 L22,135 L20,108 L20,80 L22,63 L27,83 L38,93 L46,99 L50,103 L55,104 L50,98 L42,90 L33,80 L29,58 C28,50 27,43 22,40 L12,36 C8,34 6,31 6,27 Z" fill="#fcfaf5" stroke="#b8b8b8" stroke-width="1"/>
<ellipse cx="0" cy="15" rx="11" ry="14" fill="#f8f2e8" stroke="#b8b8b8"/>
<ellipse cx="0" cy="9" rx="10" ry="8" fill="#d8342c"/>
<ellipse cx="-8" cy="56" rx="8" ry="14" fill="#f8e7b0"/>
<ellipse cx="8" cy="56" rx="8" ry="14" fill="#f8e7b0"/>
<ellipse cx="2" cy="62" rx="5" ry="6" fill="#f2cf88"/>
<ellipse cx="-4" cy="78" rx="15" ry="8" fill="#f3b964"/>
<ellipse cx="0" cy="96" rx="15" ry="12" fill="#f6c888"/>
<rect x="10" y="74" width="6" height="6" fill="#d8402a"/>
<path d="M-18 114L-9 114L-11 152L-17 152Z" fill="#e27a40"/>
<path d="M8 114L17 114L16 150L10 150Z" fill="#f4c488"/>
<path d="M-16 156L-12 156L-12 172L-16 172ZM11 156L15 156L15 172L11 172Z" fill="#f7e0b8"/>
<path d="M-24 50L-30 78M24 50L30 78M-2 30V110" stroke="#ddd0b0" stroke-width="1" fill="none"/>
</g>
<use href="#bodyfig" x="125" y="0"/>
<rect x="1279" y="830" width="5" height="30" fill="url(#cbar)"/>
<g class="tiny" font-size="2.5" fill="#555"><text x="1286" y="833">1.0</text><text x="1286" y="846">0.5</text><text x="1286" y="859">0.0</text></g>

<!-- ================= NETWORK EDGES ================= -->
<g stroke="#595959" stroke-width="2.2" fill="none" stroke-linecap="round">
<path d="M651 163L866 166M651 163L579 233M651 163L500 245M651 163L767 271M651 163L594 313M651 163L695 400M651 163L1040 252
M579 233L720 190M579 233L520 287M579 233L456 345M579 233L655 430
M594 313L520 285M594 313L720 388M594 313L565 377
M456 345L470 320M456 345L565 377M456 345L380 414M456 345L434 410
M565 377L700 413M565 377L520 487
M434 410L380 414M434 410L406 491M434 410L700 400
M380 414L406 491M380 414L378 582M380 414L437 320
M503 533L490 320M520 487L503 533M520 487L378 582M520 487L700 374
M406 491L503 533M406 491L378 582M406 491L462 652
M503 533L626 533M503 533L617 573M503 533L462 652
M626 533L720 535M626 533L650 420M626 533L617 573
M617 573L607 633M617 573L462 652M617 573L727 623M617 573L684 686
M607 633L580 767M607 633L462 652M607 633L727 623
M727 623L712 500M727 623L735 500M727 623L790 540M727 623L983 595M727 623L750 800
M684 686L487 747M684 686L839 644M684 686L760 800
M839 644L760 520M839 644L983 595M839 644L934 767
M790 515L994 714M994 714L1029 747M810 510L760 800
M487 747L580 767M487 747L651 830M487 747L462 652M487 747L445 680
M580 767L651 830M580 767L720 800M462 652L580 767M651 830L700 828M378 582L390 620
M983 595L1060 585M983 595L934 767M1018 477L983 595
M912 498L850 520M912 498L1136 416
M916 394L838 327M916 394L1030 320M916 394L1018 477M916 394L860 430
M838 327L866 166M838 327L767 271M838 327L975 270M838 327L830 380
M767 271L757 190M767 271L830 190M767 271L700 345M767 271L775 360M757 190L748 360
M866 166L975 270M866 166L1030 250M975 270L1040 255
M860 372L1030 349M1057 340L1018 477M1060 340L1136 578M1070 345L1136 416M1097 345L1136 416M1117 350L1087 590
M1136 416L1136 578M1018 477L1136 578
M994 714L1060 670M994 714L934 767M1029 747L1045 680M1029 747L1070 680M1029 747L934 767M1029 747L866 829
M934 767L866 829M934 767L840 800M866 829L840 829"/>
</g>

<!-- ================= NODES ================= -->
<g fill="#808080" stroke="#4b4b4b" stroke-width="1.6">
<ellipse cx="651" cy="163" rx="9.5" ry="9"/>
<ellipse cx="866" cy="166" rx="9" ry="9"/>
<ellipse cx="579" cy="233" rx="9.5" ry="9"/>
<ellipse cx="767" cy="271" rx="9.5" ry="9"/>
<ellipse cx="975" cy="270" rx="9.5" ry="9"/>
<ellipse cx="594" cy="313" rx="6.5" ry="6"/>
<ellipse cx="838" cy="327" rx="6" ry="5.5"/>
<ellipse cx="456" cy="345" rx="7.5" ry="7"/>
<ellipse cx="565" cy="377" rx="6.5" ry="6"/>
<ellipse cx="380" cy="414" rx="9" ry="8.5"/>
<ellipse cx="434" cy="410" rx="9.5" ry="9"/>
<ellipse cx="916" cy="394" rx="9.5" ry="9"/>
<ellipse cx="1136" cy="416" rx="9" ry="8.5"/>
<ellipse cx="406" cy="491" rx="9" ry="8.5"/>
<ellipse cx="520" cy="487" rx="6.5" ry="6"/>
<ellipse cx="1018" cy="477" rx="9" ry="8.5"/>
<ellipse cx="912" cy="498" rx="9" ry="8.5"/>
<ellipse cx="503" cy="533" rx="6.5" ry="6"/>
<ellipse cx="626" cy="533" rx="9" ry="8.5"/>
<ellipse cx="378" cy="582" rx="9" ry="8.5"/>
<ellipse cx="617" cy="573" rx="6.5" ry="6"/>
<ellipse cx="983" cy="595" rx="9.5" ry="9"/>
<ellipse cx="607" cy="633" rx="9.5" ry="9"/>
<ellipse cx="727" cy="623" rx="12.5" ry="11.5"/>
<ellipse cx="839" cy="644" rx="9" ry="8.5"/>
<ellipse cx="684" cy="686" rx="9.5" ry="9"/>
<ellipse cx="994" cy="714" rx="6" ry="5.5"/>
<ellipse cx="487" cy="747" rx="9.5" ry="9"/>
<ellipse cx="580" cy="767" rx="6" ry="5.5"/>
<ellipse cx="934" cy="767" rx="9.5" ry="9"/>
<ellipse cx="1029" cy="747" rx="8.5" ry="8"/>
<ellipse cx="651" cy="830" rx="6.5" ry="6"/>
<ellipse cx="866" cy="829" rx="9" ry="9"/>
<ellipse cx="462" cy="652" rx="8.5" ry="8"/>
<ellipse cx="1136" cy="578" rx="9" ry="8.5"/>
</g>

<!-- ================= CENTER ================= -->
<ellipse cx="771" cy="443" rx="145" ry="111" fill="#b6afb2"/>
<ellipse cx="771" cy="443" rx="132" ry="99" fill="#7f7f7f"/>
<text x="770" y="431" class="lbl" font-size="46" text-anchor="middle" textLength="158" lengthAdjust="spacingAndGlyphs">Leibniz-</text>
<text x="770" y="484" class="lbl" font-size="46" text-anchor="middle" textLength="185" lengthAdjust="spacingAndGlyphs">FlavorDB</text>

<!-- ================= BOXES ================= -->
<rect x="692" y="93" width="171" height="108" rx="15" fill="#0d8a74"/>
<rect x="699" y="100" width="157" height="94" rx="10" fill="#0aac90"/>
<text x="778" y="139" class="lbl" font-size="27" text-anchor="middle" textLength="60" lengthAdjust="spacingAndGlyphs">Food</text>
<text x="778" y="171" class="lbl" font-size="27" text-anchor="middle" textLength="150" lengthAdjust="spacingAndGlyphs">composition</text>

<rect x="368" y="212" width="172" height="120" rx="15" fill="#7e9744"/>
<rect x="375" y="219" width="158" height="106" rx="10" fill="#9db862"/>
<text x="454" y="247" class="lbl" font-size="27" text-anchor="middle" textLength="104" lengthAdjust="spacingAndGlyphs">Key food</text>
<text x="454" y="279" class="lbl" font-size="27" text-anchor="middle" textLength="134" lengthAdjust="spacingAndGlyphs">odorants &amp;</text>
<text x="454" y="311" class="lbl" font-size="27" text-anchor="middle" textLength="96" lengthAdjust="spacingAndGlyphs">tastants</text>

<rect x="1001" y="230" width="172" height="125" rx="15" fill="#12708f"/>
<rect x="1008" y="237" width="158" height="111" rx="10" fill="#1792bd"/>
<text x="1087" y="269" class="lbl" font-size="27" text-anchor="middle" textLength="88" lengthAdjust="spacingAndGlyphs">Taste &amp;</text>
<text x="1087" y="301" class="lbl" font-size="27" text-anchor="middle" textLength="97" lengthAdjust="spacingAndGlyphs">odorant</text>
<text x="1087" y="333" class="lbl" font-size="27" text-anchor="middle" textLength="130" lengthAdjust="spacingAndGlyphs">perception</text>

<rect x="321" y="595" width="142" height="94" rx="14" fill="#c45b10"/>
<rect x="328" y="602" width="128" height="80" rx="9" fill="#f07b1e"/>
<text x="391" y="634" class="lbl" font-size="27" text-anchor="middle" textLength="109" lengthAdjust="spacingAndGlyphs">Receptor</text>
<text x="392" y="666" class="lbl" font-size="27" text-anchor="middle" textLength="120" lengthAdjust="spacingAndGlyphs">modelling</text>

<rect x="1035" y="577" width="159" height="112" rx="15" fill="#9c2616"/>
<rect x="1042" y="584" width="145" height="98" rx="10" fill="#c2391f"/>
<text x="1115" y="609" class="lbl" font-size="27" text-anchor="middle" textLength="90" lengthAdjust="spacingAndGlyphs">Taste &amp;</text>
<text x="1115" y="641" class="lbl" font-size="27" text-anchor="middle" textLength="96" lengthAdjust="spacingAndGlyphs">odorant</text>
<text x="1115" y="673" class="lbl" font-size="27" text-anchor="middle" textLength="113" lengthAdjust="spacingAndGlyphs">receptors</text>

<rect x="671" y="776" width="192" height="114" rx="15" fill="#c9a416"/>
<rect x="678" y="783" width="178" height="100" rx="10" fill="#e8c836"/>
<text x="767" y="825" class="lbl" font-size="27" text-anchor="middle" textLength="155" lengthAdjust="spacingAndGlyphs">Physiological</text>
<text x="767" y="857" class="lbl" font-size="27" text-anchor="middle" textLength="104" lengthAdjust="spacingAndGlyphs">Function</text>
</svg>
</body></html>
